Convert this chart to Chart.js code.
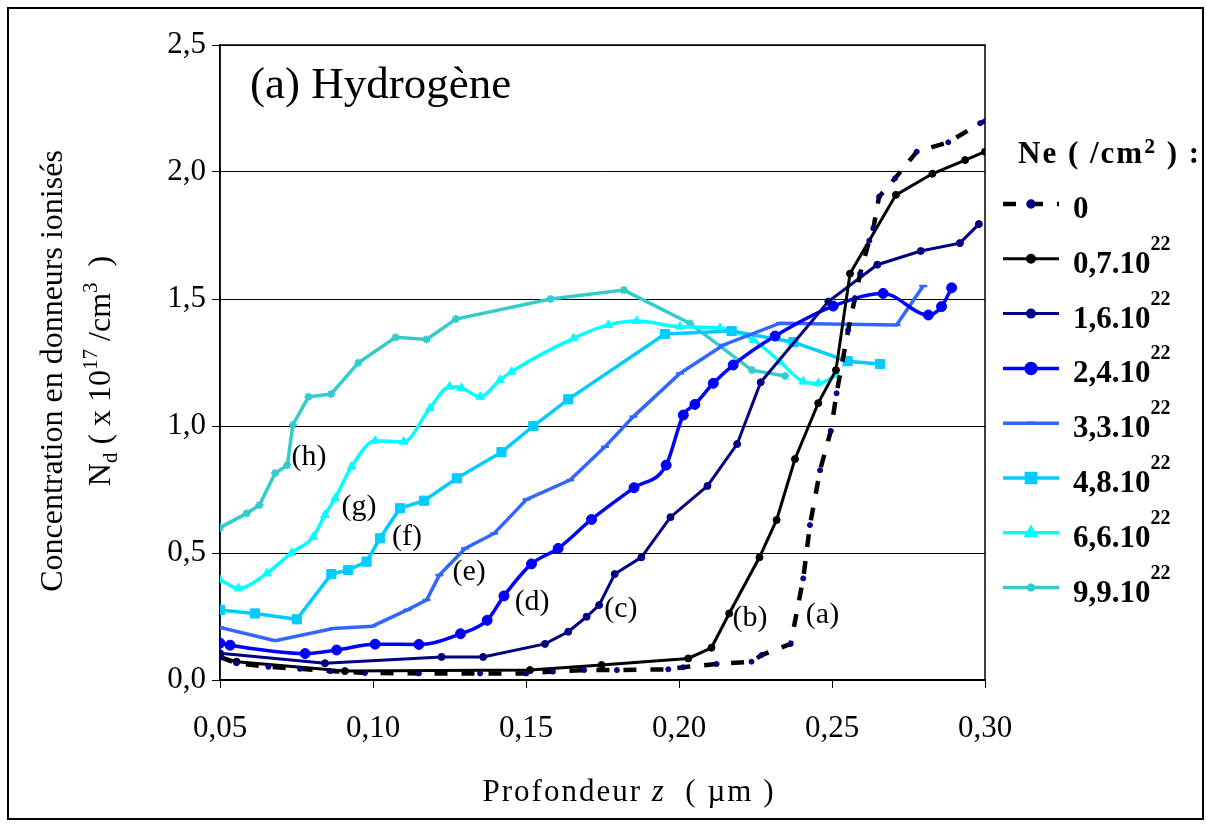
<!DOCTYPE html>
<html>
<head>
<meta charset="utf-8">
<script src="https://cdn.jsdelivr.net/npm/chart.js@4"></script>
<style>
  html, body { margin: 0; padding: 0; background: #fff; }
  #wrap { width: 1206px; height: 825px; }
</style>
</head>
<body>
<div id="wrap"><canvas id="ndChart" width="1206" height="825"></canvas></div>
<script>
// depth z (µm) and ionised donor concentration Nd (x 1e17 /cm3), one pair per fluence
const zA = [0.05, 0.0554, 0.0658, 0.0761, 0.086, 0.0974, 0.115, 0.135, 0.15, 0.1587, 0.169, 0.1797, 0.1965, 0.2013, 0.2123, 0.2237, 0.227, 0.2365, 0.2406, 0.2428, 0.2461, 0.2496, 0.2515, 0.2553, 0.2575, 0.2592, 0.2622, 0.2635, 0.2654, 0.2706, 0.2777, 0.288, 0.2984, 0.30];
const ndA = [0.09, 0.066, 0.052, 0.044, 0.035, 0.028, 0.026, 0.026, 0.026, 0.033, 0.039, 0.039, 0.042, 0.05, 0.063, 0.072, 0.098, 0.142, 0.40, 0.61, 0.826, 0.98, 1.129, 1.378, 1.503, 1.60, 1.73, 1.778, 1.903, 1.975, 2.08, 2.117, 2.192, 2.20];

const zB = [0.05, 0.0554, 0.0908, 0.1513, 0.1747, 0.203, 0.2106, 0.2164, 0.2263, 0.2319, 0.2379, 0.2455, 0.2513, 0.2559, 0.2709, 0.2828, 0.2935, 0.30];
const ndB = [0.092, 0.072, 0.035, 0.039, 0.059, 0.085, 0.127, 0.262, 0.483, 0.63, 0.87, 1.09, 1.22, 1.60, 1.91, 1.993, 2.047, 2.08];

const zC = [0.05, 0.0843, 0.1224, 0.136, 0.1562, 0.1638, 0.1698, 0.1739, 0.179, 0.1877, 0.1972, 0.2093, 0.219, 0.2267, 0.2488, 0.2648, 0.279, 0.2918, 0.298];
const ndC = [0.105, 0.066, 0.091, 0.091, 0.142, 0.19, 0.249, 0.295, 0.417, 0.483, 0.641, 0.764, 0.929, 1.172, 1.49, 1.635, 1.689, 1.72, 1.795];

const zD = [0.05, 0.0533, 0.0778, 0.0881, 0.1007, 0.115, 0.1286, 0.1373, 0.1428, 0.1518, 0.1605, 0.1714, 0.1853, 0.1958, 0.2014, 0.2052, 0.2112, 0.2177, 0.2314, 0.2504, 0.2667, 0.2815, 0.2858, 0.2891];
const ndD = [0.145, 0.137, 0.104, 0.118, 0.141, 0.14, 0.182, 0.235, 0.331, 0.457, 0.518, 0.632, 0.757, 0.846, 1.043, 1.085, 1.168, 1.24, 1.354, 1.472, 1.522, 1.437, 1.47, 1.544];

const zE = [0.05, 0.068, 0.087, 0.0998, 0.1112, 0.1175, 0.1217, 0.1301, 0.1396, 0.1502, 0.1644, 0.1758, 0.1851, 0.2003, 0.2145, 0.233, 0.2711, 0.2798];
const ndE = [0.207, 0.155, 0.203, 0.212, 0.276, 0.315, 0.413, 0.518, 0.577, 0.711, 0.787, 0.918, 1.037, 1.207, 1.319, 1.405, 1.398, 1.551];

const zF = [0.05, 0.0614, 0.0751, 0.0864, 0.0919, 0.0979, 0.1023, 0.1088, 0.1167, 0.1274, 0.142, 0.1524, 0.1638, 0.1954, 0.2172, 0.2374, 0.2551, 0.2657];
const ndF = [0.276, 0.262, 0.239, 0.417, 0.433, 0.466, 0.558, 0.676, 0.706, 0.794, 0.897, 1.0, 1.105, 1.362, 1.374, 1.33, 1.255, 1.244];

const zG = [0.05, 0.056, 0.0653, 0.0734, 0.0805, 0.0843, 0.0876, 0.093, 0.1007, 0.11, 0.1186, 0.125, 0.1289, 0.135, 0.1415, 0.1453, 0.1655, 0.1769, 0.1862, 0.2003, 0.2134, 0.2243, 0.233, 0.2406, 0.2455, 0.2515];
const ndG = [0.394, 0.361, 0.42, 0.501, 0.564, 0.65, 0.715, 0.84, 0.942, 0.938, 1.07, 1.155, 1.15, 1.115, 1.181, 1.214, 1.345, 1.398, 1.413, 1.391, 1.386, 1.339, 1.253, 1.175, 1.168, 1.2];

const zH = [0.05, 0.0587, 0.0629, 0.068, 0.072, 0.0738, 0.0789, 0.0863, 0.0952, 0.1074, 0.1175, 0.1271, 0.158, 0.182, 0.2036, 0.2238, 0.2347];
const ndH = [0.60, 0.656, 0.689, 0.814, 0.846, 1.004, 1.115, 1.126, 1.249, 1.349, 1.341, 1.421, 1.50, 1.535, 1.404, 1.22, 1.197];

// fluence Ne for each curve (x 10^22 /cm2), and the letters written next to the curves
const neValues = ['0', '0,7', '1,6', '2,4', '3,3', '4,8', '6,6', '9,9'];
const curveLetters = ['(a)', '(b)', '(c)', '(d)', '(e)', '(f)', '(g)', '(h)'];
const xTicks = [0.05, 0.10, 0.15, 0.20, 0.25, 0.30];

const SERIF = '"Liberation Serif", "Times New Roman", serif';

const pts = (xs, ys) => xs.map((x, i) => ({ x, y: ys[i] }));

function series(xs, ys, color, opts) {
  return Object.assign({
    data: pts(xs, ys),
    borderColor: color,
    backgroundColor: color,
    pointBackgroundColor: color,
    pointBorderColor: color,
    borderWidth: 3.5,
    pointRadius: 4,
    pointBorderWidth: 1,
    pointStyle: 'circle',
    tension: 0,
    fill: false
  }, opts);
}

const datasets = [
  series(zA, ndA, '#000000', { borderWidth: 4.5, borderDash: [13, 14], pointRadius: 2.5,
    pointBackgroundColor: '#000080', pointBorderColor: '#000080' }),
  series(zB, ndB, '#000000', { borderWidth: 3, pointRadius: 3.5 }),
  series(zC, ndC, '#000080', { borderWidth: 3, pointRadius: 3.5 }),
  series(zD, ndD, '#0000FF', { pointRadius: 5, cubicInterpolationMode: 'monotone' }),
  series(zE, ndE, '#3366FF', { pointStyle: 'line', pointRadius: 4, pointBorderWidth: 2.5 }),
  series(zF, ndF, '#00CCFF', { pointStyle: 'rect', pointRadius: 6.5 }),
  series(zG, ndG, '#00FFFF', { pointStyle: 'triangle', pointRadius: 5, cubicInterpolationMode: 'monotone' }),
  series(zH, ndH, '#33CCCC', { pointStyle: 'star', pointRadius: 4, pointBorderWidth: 2 })
];
datasets.forEach((d, i) => { d.label = neValues[i]; });

// where each curve letter sits, in data units (depth, Nd)
const letterSpots = [
  [0.2469, 0.256], [0.2232, 0.244], [0.1810, 0.280], [0.1520, 0.307],
  [0.1314, 0.423], [0.1111, 0.563], [0.0954, 0.681], [0.0791, 0.876]
];

// draw a sequence of text pieces (normal / sub / superscript) on one baseline
function drawRuns(ctx, runs, x, y, align) {
  let total = 0;
  runs.forEach(r => { ctx.font = r.font; total += ctx.measureText(r.t).width; });
  let cx = align === 'center' ? x - total / 2 : x;
  ctx.textAlign = 'left';
  ctx.textBaseline = 'alphabetic';
  runs.forEach(r => {
    ctx.font = r.font;
    ctx.fillText(r.t, cx, y + (r.dy || 0));
    cx += ctx.measureText(r.t).width;
  });
}

const decorations = {
  id: 'decorations',
  beforeDraw(chart) {
    const ctx = chart.ctx;
    ctx.save();
    ctx.fillStyle = '#fff';
    ctx.fillRect(0, 0, chart.width, chart.height);
    ctx.restore();
  },
  beforeDatasetsDraw(chart) {
    const { ctx, chartArea: a } = chart;
    ctx.save();
    ctx.strokeStyle = '#000';
    ctx.lineWidth = 1.5;
    ctx.strokeRect(a.left, a.top, a.right - a.left, a.bottom - a.top);
    ctx.restore();
  },
  afterDraw(chart) {
    const { ctx, scales } = chart;
    ctx.save();
    ctx.fillStyle = '#000';

    // outer frame
    ctx.strokeStyle = '#000';
    ctx.lineWidth = 2;
    ctx.strokeRect(8, 8, 1195, 811);

    // panel title
    ctx.font = '45px ' + SERIF;
    ctx.textAlign = 'left';
    ctx.textBaseline = 'alphabetic';
    ctx.fillText('(a) Hydrogène', 250, 98);

    // curve letters
    ctx.font = '30px ' + SERIF;
    ctx.textAlign = 'center';
    ctx.textBaseline = 'middle';
    letterSpots.forEach((p, i) => {
      ctx.fillText(curveLetters[i], scales.x.getPixelForValue(p[0]), scales.y.getPixelForValue(p[1]));
    });

    // x axis title
    const f30 = '31px ' + SERIF;
    ctx.letterSpacing = '2px';
    drawRuns(ctx, [
      { t: 'Profondeur ', font: f30 },
      { t: 'z', font: 'italic ' + f30 },
      { t: '  ( µm )', font: f30 }
    ], 629, 801, 'center');

    // y axis title, two rotated lines
    ctx.letterSpacing = '0px';
    ctx.save();
    ctx.translate(62, 371);
    ctx.rotate(-Math.PI / 2);
    drawRuns(ctx, [{ t: 'Concentration en donneurs ionisés', font: '32px ' + SERIF }], 0, 0, 'center');
    ctx.restore();

    ctx.save();
    ctx.translate(110, 371);
    ctx.rotate(-Math.PI / 2);
    const big = '32px ' + SERIF, small = '21px ' + SERIF;
    drawRuns(ctx, [
      { t: 'N', font: big },
      { t: 'd', font: small, dy: 7 },
      { t: ' ( x 10', font: big },
      { t: '17', font: small, dy: -13 },
      { t: ' /cm', font: big },
      { t: '3', font: small, dy: -13 },
      { t: '  )', font: big }
    ], 0, 0, 'center');
    ctx.restore();

    // legend
    const bold = 'bold 31px ' + SERIF, boldSup = 'bold 20px ' + SERIF;
    ctx.letterSpacing = '2px';
    drawRuns(ctx, [
      { t: 'Ne ( /cm', font: bold },
      { t: '²', font: 'bold 36px ' + SERIF },
      { t: ' ) :', font: bold }
    ], 1018, 163, 'left');
    ctx.letterSpacing = '0px';
    chart.data.datasets.forEach((ds, i) => {
      const y = 204 + i * 54.8;
      ctx.save();
      ctx.strokeStyle = ds.borderColor;
      ctx.lineWidth = ds.borderWidth;
      ctx.setLineDash(ds.borderDash || []);
      ctx.beginPath();
      ctx.moveTo(1003, y);
      ctx.lineTo(1059, y);
      ctx.stroke();
      ctx.setLineDash([]);
      ctx.fillStyle = ds.pointBackgroundColor;
      ctx.strokeStyle = ds.pointBorderColor;
      Chart.helpers.drawPoint(ctx, {
        pointStyle: ds.pointStyle, rotation: 0,
        radius: ds.pointRadius, borderWidth: ds.pointBorderWidth
      }, 1031, y);
      ctx.restore();
      const runs = [{ t: ds.label, font: bold }];
      if (ds.label !== '0') {
        runs.push({ t: '.10', font: bold });
        runs.push({ t: '22', font: boldSup, dy: -23 });
      }
      drawRuns(ctx, runs, 1073, y + 14, 'left');
    });
    ctx.restore();
  }
};

new Chart(document.getElementById('ndChart'), {
  type: 'line',
  data: { datasets },
  options: {
    responsive: false,
    devicePixelRatio: 1,
    animation: false,
    layout: { padding: { top: 45, right: 221, left: 0, bottom: 0 } },
    plugins: { legend: { display: false }, tooltip: { enabled: false } },
    scales: {
      x: {
        type: 'linear',
        min: 0.05,
        max: 0.30,
        afterBuildTicks: s => { s.ticks = xTicks.map(v => ({ value: v })); },
        ticks: {
          color: '#000',
          padding: 22,
          maxRotation: 0,
          autoSkip: false,
          font: { family: SERIF, size: 31 },
          callback: v => v.toFixed(2).replace('.', ',')
        },
        grid: { drawOnChartArea: false, color: '#000', tickColor: '#000', tickLength: 8 },
        border: { color: '#000', width: 1.5 },
        afterFit: s => { s.height = 145; }
      },
      y: {
        min: 0,
        max: 2.5,
        ticks: {
          stepSize: 0.5,
          color: '#000',
          padding: 6,
          font: { family: SERIF, size: 31 },
          callback: v => v.toFixed(1).replace('.', ',')
        },
        grid: { color: '#000', lineWidth: 1, tickColor: '#000', tickLength: 8 },
        border: { color: '#000', width: 1.5 },
        afterFit: s => { s.width = 220; }
      }
    }
  },
  plugins: [decorations]
});
</script>
</body>
</html>
